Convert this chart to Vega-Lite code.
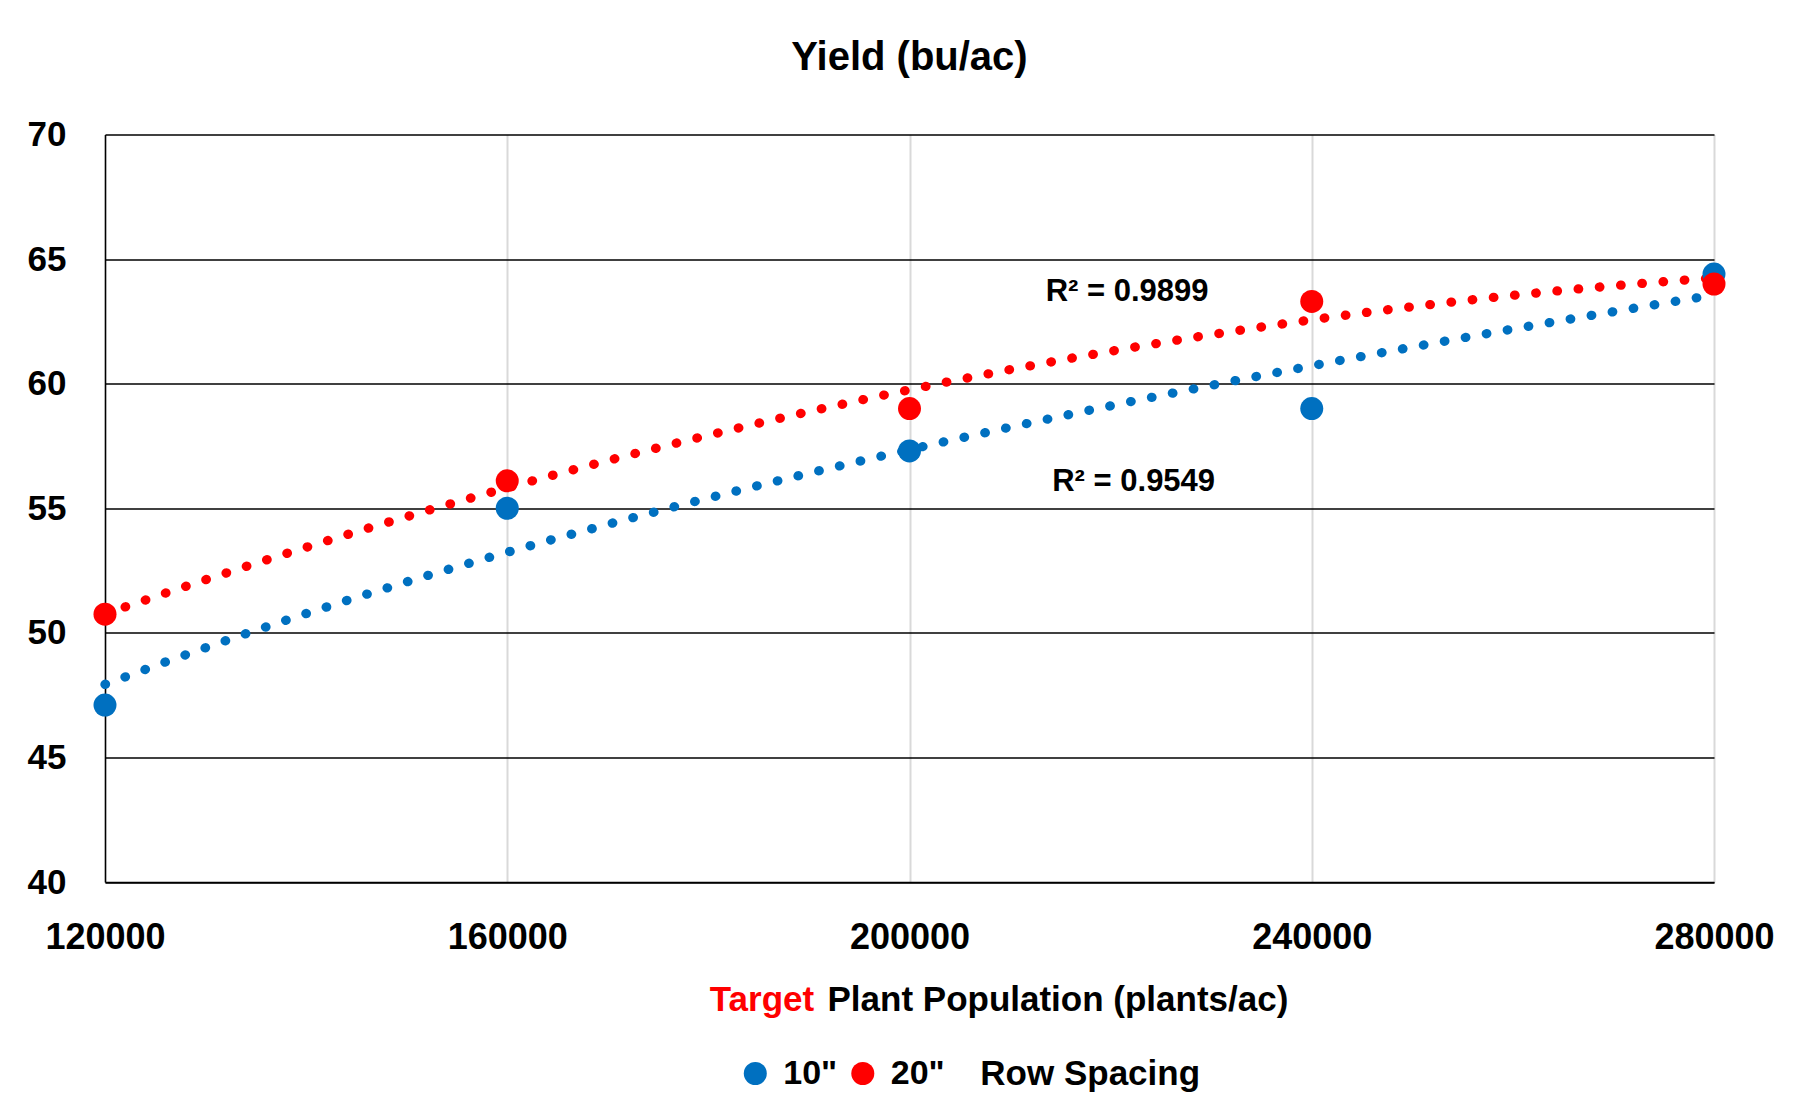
{
  "$schema": "https://vega.github.io/schema/vega-lite/v6.json",
  "width": 1609,
  "height": 747.5,
  "autosize": {"type": "none"},
  "padding": {"left": 105, "top": 134.5, "right": 86, "bottom": 232},
  "background": "white",
  "config": {
    "font": "Liberation Sans, Arial, sans-serif",
    "view": {"stroke": null}
  },
  "title": {
    "text": "Yield (bu/ac)",
    "anchor": "middle",
    "frame": "group",
    "fontSize": 40,
    "fontWeight": "bold",
    "color": "black",
    "baseline": "alphabetic",
    "offset": 7.5
  },
  "data": {
    "values": [
      {"pop": 120000, "yield": 47.1, "spacing": "10\""},
      {"pop": 160000, "yield": 55.0, "spacing": "10\""},
      {"pop": 200000, "yield": 57.3, "spacing": "10\""},
      {"pop": 240000, "yield": 59.0, "spacing": "10\""},
      {"pop": 280000, "yield": 64.4, "spacing": "10\""},
      {"pop": 120000, "yield": 50.75, "spacing": "20\""},
      {"pop": 160000, "yield": 56.1, "spacing": "20\""},
      {"pop": 200000, "yield": 59.0, "spacing": "20\""},
      {"pop": 240000, "yield": 63.3, "spacing": "20\""},
      {"pop": 280000, "yield": 64.0, "spacing": "20\""}
    ]
  },
  "encoding": {
    "x": {
      "field": "pop",
      "type": "quantitative",
      "scale": {"domain": [120000, 280000], "nice": false, "zero": false},
      "axis": {
        "values": [120000, 160000, 200000, 240000, 280000],
        "format": "d",
        "ticks": false,
        "domain": true,
        "domainColor": "#000000",
        "domainWidth": 1.5,
        "grid": true,
        "gridColor": "#D9D9D9",
        "gridWidth": 2,
        "labelFontSize": 36,
        "labelFontWeight": "bold",
        "labelColor": "#000000",
        "labelPadding": 38,
        "labelBaseline": "top",
        "labelFlush": false,
        "labelOverlap": false,
        "title": "Plant Population (plants/ac)",
        "titleFontSize": 35,
        "titleFontWeight": "bold",
        "titleColor": "#000000",
        "titleAlign": "left",
        "titleAnchor": "start",
        "titleBaseline": "alphabetic",
        "titleX": 722,
        "titleY": 128
      }
    },
    "y": {
      "field": "yield",
      "type": "quantitative",
      "scale": {"domain": [40, 70], "nice": false, "zero": false},
      "axis": {
        "values": [40, 45, 50, 55, 60, 65, 70],
        "ticks": false,
        "domain": true,
        "domainColor": "#000000",
        "domainWidth": 1.5,
        "grid": true,
        "gridColor": "#000000",
        "gridWidth": 1.5,
        "labelFontSize": 35,
        "labelFontWeight": "bold",
        "labelColor": "#000000",
        "labelPadding": 39,
        "labelFlush": false,
        "labelOverlap": false,
        "title": "Target",
        "titleAngle": 0,
        "titleFontSize": 35,
        "titleFontWeight": "bold",
        "titleColor": "#FF0000",
        "titleAlign": "left",
        "titleAnchor": "start",
        "titleBaseline": "alphabetic",
        "titleX": 604.3,
        "titleY": 875.5
      }
    }
  },
  "layer": [
    {
      "transform": [
        {"filter": "datum.spacing === '20\"'"},
        {"regression": "yield", "on": "pop", "method": "poly", "order": 2}
      ],
      "mark": {
        "type": "line",
        "color": "#FF0000",
        "strokeWidth": 9.3,
        "strokeCap": "round",
        "strokeDash": [0.5, 20.8]
      }
    },
    {
      "transform": [
        {"filter": "datum.spacing === '10\"'"},
        {"regression": "yield", "on": "pop", "method": "log"}
      ],
      "mark": {
        "type": "line",
        "color": "#0070C0",
        "strokeWidth": 9.3,
        "strokeCap": "round",
        "strokeDash": [0.5, 20.8]
      }
    },
    {
      "mark": {"type": "point", "filled": true, "opacity": 1, "size": 529, "shape": "circle"},
      "encoding": {
        "color": {
          "field": "spacing",
          "type": "nominal",
          "scale": {"domain": ["10\"", "20\""], "range": ["#0070C0", "#FF0000"]},
          "legend": {
            "orient": "none",
            "legendX": 633.3,
            "legendY": 922,
            "direction": "horizontal",
            "title": "Row Spacing",
            "titleOrient": "right",
            "titleAnchor": "middle",
            "titleFontSize": 35,
            "titleFontWeight": "bold",
            "titleColor": "#000000",
            "titlePadding": 36,
            "titleBaseline": "middle",
            "titleLimit": 0,
            "symbolType": "circle",
            "symbolSize": 529,
            "symbolStrokeWidth": 0,
            "symbolOpacity": 1,
            "labelFontSize": 34,
            "labelFontWeight": "bold",
            "labelColor": "#000000",
            "labelOffset": 11,
            "labelLimit": 0,
            "columnPadding": 8.5,
            "padding": 0
          }
        }
      }
    },
    {
      "data": {
        "values": [
          {"pop": 221640, "yield": 63.3, "label": "R² = 0.9899"},
          {"pop": 222290, "yield": 55.68, "label": "R² = 0.9549"}
        ]
      },
      "mark": {
        "type": "text",
        "fontSize": 31,
        "fontWeight": "bold",
        "color": "#000000",
        "align": "center",
        "baseline": "alphabetic"
      },
      "encoding": {
        "text": {"field": "label", "type": "nominal"}
      }
    }
  ]
}
